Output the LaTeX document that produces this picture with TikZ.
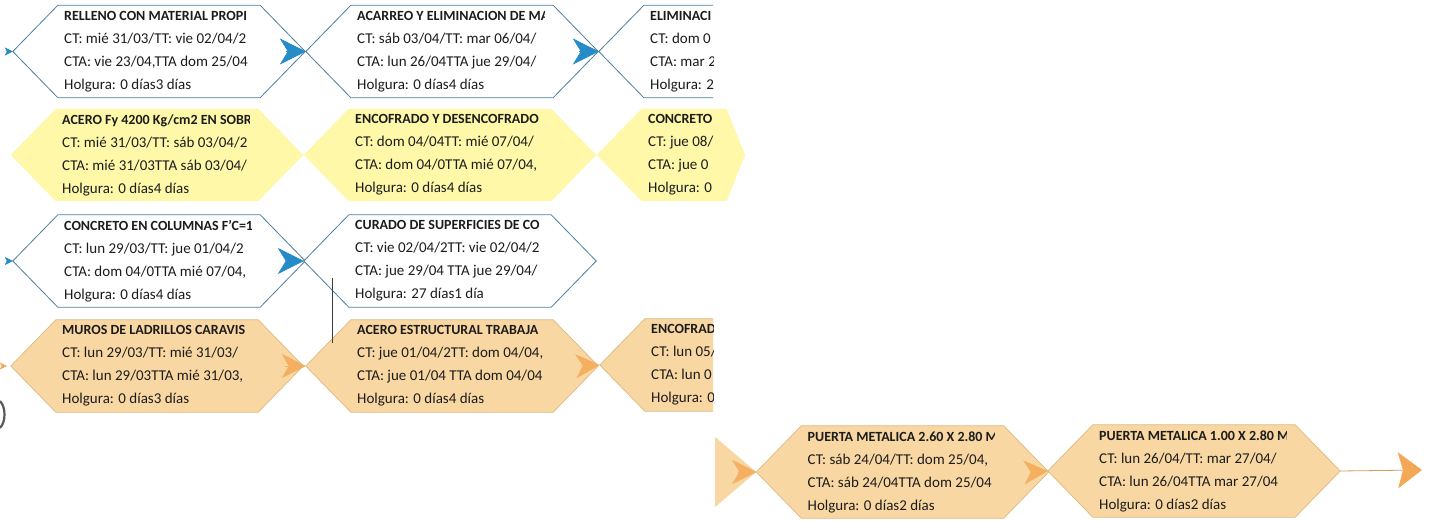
\documentclass[tikz,border=0pt]{standalone}
\usepackage{fontspec}
\setmainfont{Carlito}
\usetikzlibrary{arrows.meta}
\definecolor{bluel}{RGB}{78,128,158}
\definecolor{bluea}{RGB}{38,140,200}
\definecolor{yelf}{RGB}{254,248,168}
\definecolor{orf}{RGB}{249,215,162}
\definecolor{orl}{RGB}{222,185,130}
\definecolor{ora}{RGB}{243,168,85}
\definecolor{txt}{RGB}{28,28,28}
\definecolor{vline}{RGB}{60,60,60}
\newcommand\tasktitlefont{\fontsize{14}{23}\selectfont\bfseries}
% #1 name, #2 position, #3 style, #4 title, #5 CT, #6 CTA, #7 Holgura
\newcommand\task[7]{%
  \node[taskbox] (#1) at #2 {};
  \coordinate (#1-L) at ([xshift=-45pt]#1.west);
  \coordinate (#1-R) at ([xshift=45pt]#1.east);
  \path[#3] (#1.north west) -- (#1.north east) -- (#1-R) -- (#1.south east)
     -- (#1.south west) -- (#1-L) -- cycle;
  \begin{scope}
    \clip ([xshift=-100pt]#1.north) rectangle ([xshift=92pt]#1.south);
    \node[tasktext] (#1-t) at ([xshift=-95pt]#1.center)
      {{\tasktitlefont #4}\\#5\\#6\\#7};
  \end{scope}%
}
\begin{document}
\begin{tikzpicture}[x=1pt,y=-1pt,
  taskbox/.style={rectangle, inner sep=0pt, minimum width=202pt, minimum height=92pt},
  bluetask/.style={draw=bluel, line width=0.8pt, fill=white},
  yellowtask/.style={fill=yelf},
  orangetask/.style={draw=orl, line width=0.7pt, fill=orf},
  tasktext/.style={anchor=west, align=left, inner sep=0pt, text=txt,
     font=\fontsize{15}{23}\selectfont},
  bjunc/.style={draw=bluea, line width=0.5pt, -{Stealth[length=26pt,width=26pt,inset=8pt]}},
  yjunc/.style={draw=yelf, line width=0.5pt, -{Stealth[length=26pt,width=26pt,inset=8pt]}},
  ojunc/.style={draw=ora!85!orf, line width=0.5pt, -{Stealth[length=24pt,width=24pt,inset=7pt]}},
  bsmall/.style={draw=bluea, line width=0.5pt, -{Stealth[length=8pt,width=8pt,inset=2pt]}},
  osmall/.style={draw=ora, line width=0.5pt, -{Stealth[length=7pt,width=7pt,inset=2pt]}},
  endarrow/.style={draw=ora!70!gray, line width=0.8pt, -{Stealth[length=24pt,width=36pt,inset=5pt,color=ora]}},
  link/.style={draw=vline, line width=0.9pt}
]
\fill[white] (0,0) rectangle (1430,521);
\useasboundingbox (0,0) rectangle (1430,521);

% Row 1
\task{r1c1}{(159,51.5)}{bluetask}{RELLENO CON MATERIAL PROPI}{CT: mié 31/03/TT: vie 02/04/2}{CTA: vie 23/04,TTA dom 25/04}{Holgura: 0 días3 días}
\task{r1c2}{(452,51.5)}{bluetask}{ACARREO Y ELIMINACION DE MA}{CT: sáb 03/04/TT: mar 06/04/}{CTA: lun 26/04TTA jue 29/04/}{Holgura: 0 días4 días}
\begin{scope}
  \clip (560,0) rectangle (713,110);
  \task{r1c3}{(745,51.5)}{bluetask}{ELIMINACI}{CT: dom 0}{CTA: mar 2}{Holgura: 2}
\end{scope}

% Row 2
\task{r2c1}{(157,155)}{yellowtask}{ACERO Fy 4200 Kg/cm2 EN SOBR}{CT: mié 31/03/TT: sáb 03/04/2}{CTA: mié 31/03TTA sáb 03/04/}{Holgura: 0 días4 días}
\task{r2c2}{(450,155)}{yellowtask}{ENCOFRADO Y DESENCOFRADO}{CT: dom 04/04TT: mié 07/04/}{CTA: dom 04/0TTA mié 07/04,}{Holgura: 0 días4 días}
\begin{scope}
  \clip (560,100) -- (723,100) -- (745,155) -- (723,210) -- (560,210) -- cycle;
  \task{r2c3}{(743,155)}{yellowtask}{CONCRETO}{CT: jue 08/}{CTA: jue 0}{Holgura: 0}
\end{scope}

% Row 3
\task{r3c1}{(159,261)}{bluetask}{CONCRETO EN COLUMNAS F'C=1}{CT: lun 29/03/TT: jue 01/04/2}{CTA: dom 04/0TTA mié 07/04,}{Holgura: 0 días4 días}
\task{r3c2}{(450,261)}{bluetask}{CURADO DE SUPERFICIES DE CO}{CT: vie 02/04/2TT: vie 02/04/2}{CTA: jue 29/04 TTA jue 29/04/}{Holgura: 27 días1 día}

% Row 4
\task{r4c1}{(157,366)}{orangetask}{MUROS DE LADRILLOS CARAVIS}{CT: lun 29/03/TT: mié 31/03/}{CTA: lun 29/03TTA mié 31/03,}{Holgura: 0 días3 días}
\task{r4c2}{(452,366)}{orangetask}{ACERO ESTRUCTURAL TRABAJA}{CT: jue 01/04/2TT: dom 04/04,}{CTA: jue 01/04 TTA dom 04/04}{Holgura: 0 días4 días}
\begin{scope}
  \clip (560,310) rectangle (713,420);
  \task{r4c3}{(746,365)}{orangetask}{ENCOFRAD}{CT: lun 05/}{CTA: lun 0}{Holgura: 0}
\end{scope}

% Bottom row
\task{b1}{(902.5,472)}{orangetask}{PUERTA METALICA 2.60 X 2.80 M.}{CT: sáb 24/04/TT: dom 25/04,}{CTA: sáb 24/04TTA dom 25/04}{Holgura: 0 días2 días}
\task{b2}{(1194,471)}{orangetask}{PUERTA METALICA 1.00 X 2.80 M}{CT: lun 26/04/TT: mar 27/04/}{CTA: lun 26/04TTA mar 27/04}{Holgura: 0 días2 días}
\fill[orf] (715,437) -- (b1-L) -- (715,507) -- cycle;

% connectors
\draw[bsmall] ([xshift=-6pt]r1c1-L) -- (r1c1-L);
\draw[bjunc] ([xshift=-19pt]r1c1-R) -- (r1c2-L);
\draw[bjunc] ([xshift=-19pt]r1c2-R) -- (r1c3-L);
\draw[yjunc] ([xshift=-19pt]r2c1-R) -- (r2c2-L);
\draw[yjunc] ([xshift=-19pt]r2c2-R) -- (r2c3-L);
\draw[bsmall] ([xshift=-6pt]r3c1-L) -- (r3c1-L);
\draw[bjunc] ([xshift=-19pt]r3c1-R) -- (r3c2-L);
\draw[osmall] ([xshift=-8pt]r4c1-L) -- ([xshift=-4pt]r4c1-L);
\draw[ojunc] ([xshift=-18pt]r4c1-R) -- (r4c2-L);
\draw[ojunc] ([xshift=-18pt]r4c2-R) -- (r4c3-L);
\draw[ojunc] ([xshift=-18pt]b1-L) -- (b1-L);
\draw[ojunc] ([xshift=-18pt]b1-R) -- (b2-L);
\coordinate (bend) at (1422,470);
\draw[endarrow] (b2-R) -- (bend);
\coordinate (v1) at (332,278);
\coordinate (v2) at (332,343);
\draw[link] (v1) -- (v2);

% scan mark
\draw[line width=2.2pt, black!65] (0,401) .. controls (6,407) and (6,422) .. (0,428);
\end{tikzpicture}
\end{document}
